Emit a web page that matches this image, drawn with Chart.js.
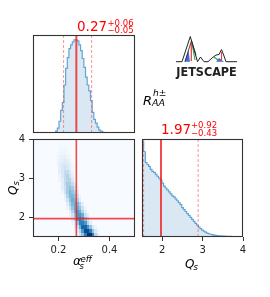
<!DOCTYPE html>
<html><head><meta charset="utf-8">
<script src="https://cdn.jsdelivr.net/npm/chart.js@4.4.1/dist/chart.umd.min.js"></script>
<style>
html,body{margin:0;padding:0;background:#fff;}
#wrap{position:relative;width:270px;height:297px;overflow:hidden;background:#fff;font-family:'DejaVu Sans',sans-serif;}
canvas{position:absolute;left:0;top:0;}
.t{position:absolute;white-space:nowrap;line-height:1;font-family:'DejaVu Sans',sans-serif;}
</style></head><body>
<div id="wrap">
<canvas id="c1" width="270" height="297"></canvas>
<canvas id="c2" width="270" height="297"></canvas>
<canvas id="c3" width="270" height="297"></canvas>
<svg style="position:absolute;left:170px;top:30px" width="75" height="55" viewBox="0 0 75 55">
  <polygon points="14.5,31.7 18.5,20 20,31.7" fill="#3d6fe0"/>
  <polygon points="46,31.7 49,28 54,31.7" fill="#3d6fe0"/>
  <line x1="21.3" y1="13" x2="21.3" y2="31" stroke="#e8463c" stroke-width="1.3"/>
  <line x1="51.5" y1="22" x2="51.5" y2="31" stroke="#e8463c" stroke-width="1.2"/>
  <polyline points="22.5,16 25,30" fill="none" stroke="#33a04a" stroke-width="1.1"/>
  <polyline points="44,27 48,30" fill="none" stroke="#33a04a" stroke-width="1.1"/>
  <polyline points="6,31.7 12,31.7 20.3,6.5 27.5,31.7 30.5,27 34,31.7 38,31.7 42,28 46,25 49,24.5 51.5,19.5 54,26 56,31.7 67,31.7" fill="none" stroke="#222" stroke-width="1"/>
  <polyline points="15,31.7 21.5,10.5 26,25" fill="none" stroke="#222" stroke-width="0.8"/>
  <text x="6.3" y="45.5" font-family="DejaVu Sans" font-weight="bold" font-size="12.5" textLength="60.5" lengthAdjust="spacingAndGlyphs" fill="#222">JETSCAPE</text>
</svg>
</div>
<script>
// ---------------- data ----------------
const alphaRange = [0.1, 0.5];
const qRange = [1.5, 4.0];
const alphaTicks = [0.2, 0.4];
const qTicks = [2, 3, 4];

const alphaMedian = 0.27, alphaLow = 0.22, alphaHigh = 0.33;
const qMedian = 1.97, qLow = 1.54, qHigh = 2.89;

// alpha_s^eff marginal histogram (bin start, bin width, relative heights)
const alphaHistStart = 0.189;
const alphaHistWidth = 0.0065;
const alphaHist = [0.02, 0.05, 0.12, 0.23, 0.31, 0.49, 0.66, 0.77, 0.86, 0.90, 0.93, 0.95, 0.95, 0.94,
  0.90, 0.84, 0.76, 0.67, 0.57, 0.49, 0.43, 0.33, 0.21, 0.14, 0.10, 0.06, 0.03, 0.02, 0.01];

// Q_s marginal histogram
const qHistStart = 1.5;
const qHistWidth = 0.041;
const qHist = [0.97, 0.87, 0.76, 0.74, 0.72, 0.69, 0.67, 0.66, 0.64, 0.62, 0.60, 0.58, 0.55, 0.52, 0.50,
  0.48, 0.46, 0.44, 0.42, 0.41, 0.39, 0.37, 0.35, 0.33, 0.30, 0.28, 0.26, 0.24, 0.22, 0.20, 0.18, 0.16,
  0.14, 0.12, 0.10, 0.085, 0.07, 0.06, 0.05, 0.04, 0.033, 0.028, 0.024, 0.02, 0.017, 0.015, 0.013, 0.011,
  0.01, 0.009, 0.008, 0.007, 0.006, 0.006, 0.005, 0.005, 0.004, 0.004, 0.003, 0.003, 0.002];

// 2D joint density (rows: Q_s bins from heatQStart, columns: alpha bins from heatAlphaStart), scale 0-10
const heatAlphaStart = 0.18, heatAlphaStep = 0.01;
const heatQStart = 1.5, heatQStep = 0.1;
const heatRows = [
  [0,0,0,0,0,0,0,0,0,0.5,2,4,7,10,10,7,3,1],
  [0,0,0,0,0,0,0,0,0.5,1,3,6,9,9,7,4,1.5,0.5],
  [0,0,0,0,0,0,0,0,1,2,5,8,8,6,4,1.5,0.5,0],
  [0,0,0,0,0,0,0,0.5,1.5,4,7,7,6,3,1,0,0,0],
  [0,0,0,0,0,0,0,1,3,6,7,6,4,2,0.5,0,0,0],
  [0,0,0,0,0,0,0.5,2,4,6,6,5,2,1,0,0,0,0],
  [0,0,0,0,0,0,1,3,5,6,5,3,1,0,0,0,0,0],
  [0,0,0,0,0,0.5,2,4,5,5,4,2,0.5,0,0,0,0,0],
  [0,0,0,0,0,1,3,4.5,5,4.5,3,1,0,0,0,0,0,0],
  [0,0,0,0,0.5,2,4,5,4.5,3,1,0,0,0,0,0,0,0],
  [0,0,0,0,1,3,4.5,4.5,4,2,0.5,0,0,0,0,0,0,0],
  [0,0,0,0.5,2,3.5,4.5,4,3,1,0,0,0,0,0,0,0,0],
  [0,0,0,1,2,3.5,4,3.5,2,0.5,0,0,0,0,0,0,0,0],
  [0,0,0,1,2.5,3.5,3.5,2.5,1,0,0,0,0,0,0,0,0,0],
  [0,0,0.5,1,2.5,3,3,1.5,0.5,0,0,0,0,0,0,0,0,0],
  [0,0,0.5,1.5,2.5,3,2,1,0,0,0,0,0,0,0,0,0,0],
  [0,0,1,1.5,2.5,2.5,1.5,0.5,0,0,0,0,0,0,0,0,0,0],
  [0,0,1,1.5,2,1.5,1,0.3,0,0,0,0,0,0,0,0,0,0],
  [0,0.3,1,1.5,1.5,1.2,0.8,0.3,0,0,0,0,0,0,0,0,0,0],
  [0,0.3,0.8,1,1.2,1,0.5,0,0,0,0,0,0,0,0,0,0,0],
  [0,0.2,0.5,0.8,0.8,0.5,0.3,0,0,0,0,0,0,0,0,0,0,0],
  [0,0.1,0.3,0.5,0.5,0.3,0.1,0,0,0,0,0,0,0,0,0,0,0],
  [0,0,0.2,0.3,0.3,0.2,0,0,0,0,0,0,0,0,0,0,0,0],
  [0,0,0.1,0.15,0.1,0,0,0,0,0,0,0,0,0,0,0,0,0]
];
const heatMax = 10;

// ---------------- styles ----------------
const HIST_FILL = 'rgba(31,119,180,0.17)';
const HIST_LINE = '#62a4d6';
const RED = 'rgba(240,30,30,0.8)';
const RED_DASH = 'rgba(245,70,70,0.65)';
const FRAME = '#333';
const TICK_FONT = {family: "'DejaVu Sans', sans-serif", size: 10};
const blues = ['#f7fbff','#deebf7','#c6dbef','#9ecae1','#6baed6','#4292c6','#2171b5','#08519c','#08306b'];

function hexRGB(h){return [parseInt(h.slice(1,3),16),parseInt(h.slice(3,5),16),parseInt(h.slice(5,7),16)];}
function bluesColor(t){
  t = Math.max(0, Math.min(1, t));
  const p = t*(blues.length-1);
  const i = Math.min(Math.floor(p), blues.length-2);
  const f = p - i;
  const a = hexRGB(blues[i]), b = hexRGB(blues[i+1]);
  return 'rgb(' + a.map((v,k)=>Math.round(v+(b[k]-v)*f)).join(',') + ')';
}

function histPoints(start, width, heights){
  const pts = [{x: start, y: 0}];
  heights.forEach((h, i) => pts.push({x: start + i*width, y: h}));
  const end = start + heights.length*width;
  pts.push({x: end, y: 0});
  return pts;
}
function histDataset(start, width, heights){
  return {data: histPoints(start, width, heights), showLine: true, stepped: 'before', pointRadius: 0,
    borderColor: HIST_LINE, borderWidth: 1.2, backgroundColor: HIST_FILL, fill: 'origin', order: 5};
}
function vline(x, y0, y1, color, width, dash){
  return {data: [{x, y: y0}, {x, y: y1}], showLine: true, pointRadius: 0, borderColor: color,
    borderWidth: width, borderDash: dash || [], fill: false, order: 1};
}
function hline(y, x0, x1, color, width){
  return {data: [{x: x0, y}, {x: x1, y}], showLine: true, pointRadius: 0, borderColor: color,
    borderWidth: width, fill: false, order: 1};
}

const framePlugin = {
  id: 'frame',
  afterDraw(chart){
    const a = chart.chartArea, ctx = chart.ctx;
    ctx.save(); ctx.strokeStyle = FRAME; ctx.lineWidth = 1.1;
    ctx.strokeRect(a.left + 0.5, a.top + 0.5, a.right - a.left - 1, a.bottom - a.top - 1);
    ctx.restore();
  }
};

const heatPlugin = {
  id: 'heat',
  beforeDatasetsDraw(chart){
    const xs = chart.scales.x, ys = chart.scales.y, a = chart.chartArea, ctx = chart.ctx;
    ctx.save();
    ctx.fillStyle = blues[0];
    ctx.fillRect(a.left, a.top, a.right - a.left, a.bottom - a.top);
    heatRows.forEach((row, r) => {
      const q0 = heatQStart + r*heatQStep, q1 = q0 + heatQStep;
      const py0 = Math.round(ys.getPixelForValue(q1)), py1 = Math.round(ys.getPixelForValue(q0));
      row.forEach((v, c) => {
        if (v <= 0) return;
        const al0 = heatAlphaStart + c*heatAlphaStep, al1 = al0 + heatAlphaStep;
        const px0 = Math.round(xs.getPixelForValue(al0)), px1 = Math.round(xs.getPixelForValue(al1));
        ctx.fillStyle = bluesColor(v/heatMax);
        ctx.fillRect(px0, py0, px1 - px0, py1 - py0);
      });
    });
    ctx.restore();
  }
};

function hiddenScale(min, max){ return {type: 'linear', min, max, display: false}; }
function tickScale(min, max, ticks, axis){
  const s = {type: 'linear', min, max,
    afterBuildTicks: sc => { sc.ticks = ticks.map(v => ({value: v})); },
    grid: {display: true, drawOnChartArea: false, drawTicks: true, tickLength: 4, color: FRAME, lineWidth: 1},
    border: {display: false},
    ticks: {padding: axis === 'x' ? 3 : 4, color: '#222', font: TICK_FONT, maxRotation: 0, autoSkip: false,
      callback: v => String(v)}};
  if (axis === 'x') { s.position = 'bottom'; s.afterFit = sc => { sc.height = 20; }; }
  else { s.position = 'left'; s.afterFit = sc => { sc.width = 20; }; }
  return s;
}
function opts(pad, x, y){
  return {responsive: false, animation: false, devicePixelRatio: 1, events: [],
    layout: {padding: pad},
    plugins: {legend: {display: false}, tooltip: {enabled: false}},
    scales: {x, y}};
}

// Top-left: alpha_s^eff histogram
new Chart(document.getElementById('c1'), {
  type: 'scatter',
  data: {datasets: [
    vline(alphaMedian, 0, 1, RED, 2),
    vline(alphaLow, 0, 1, RED_DASH, 0.9, [3, 2]),
    vline(alphaHigh, 0, 1, RED_DASH, 0.9, [3, 2]),
    histDataset(alphaHistStart, alphaHistWidth, alphaHist)
  ]},
  options: opts({left: 33, top: 35, right: 135, bottom: 164}, hiddenScale(alphaRange[0], alphaRange[1]), hiddenScale(0, 1)),
  plugins: [framePlugin]
});

// Bottom-left: 2D density
new Chart(document.getElementById('c2'), {
  type: 'scatter',
  data: {datasets: [
    vline(alphaMedian, qRange[0], qRange[1], RED, 1.6),
    hline(qMedian, alphaRange[0], alphaRange[1], RED, 1.6)
  ]},
  options: opts({left: 13, top: 139, right: 135, bottom: 40},
    tickScale(alphaRange[0], alphaRange[1], alphaTicks, 'x'),
    tickScale(qRange[0], qRange[1], qTicks, 'y')),
  plugins: [heatPlugin, framePlugin]
});

// Bottom-right: Q_s histogram
new Chart(document.getElementById('c3'), {
  type: 'scatter',
  data: {datasets: [
    vline(qMedian, 0, 1, RED, 2),
    vline(qLow, 0, 1, RED_DASH, 0.9, [3, 2]),
    vline(qHigh, 0, 1, RED_DASH, 0.9, [3, 2]),
    histDataset(qHistStart, qHistWidth, qHist)
  ]},
  options: opts({left: 142, top: 139, right: 27, bottom: 40},
    tickScale(qRange[0], qRange[1], qTicks, 'x'), hiddenScale(0, 1)),
  plugins: [framePlugin]
});

// ---------------- text labels ----------------
const wrap = document.getElementById('wrap');
function label(text, x, baseline, size, o){
  o = o || {};
  const d = document.createElement('div');
  d.className = 't';
  d.textContent = text;
  d.style.left = x + 'px';
  d.style.top = (baseline - 0.846*size) + 'px';
  d.style.fontSize = size + 'px';
  if (o.color) d.style.color = o.color;
  if (o.italic) d.style.fontStyle = 'italic';
  wrap.appendChild(d);
  return d;
}
const RED_TXT = '#ff0000';
label('0.27', 77, 31.7, 13.5, {color: RED_TXT});
label('+0.06', 107.5, 25.7, 8.5, {color: RED_TXT});
label('\u22120.05', 107.5, 33.4, 8.5, {color: RED_TXT});
label('1.97', 161, 134.5, 13.5, {color: RED_TXT});
label('+0.92', 191, 128.5, 8.5, {color: RED_TXT});
label('\u22120.43', 191, 136.2, 8.5, {color: RED_TXT});

label('R', 143, 105, 13, {italic: true});
label('h\u00b1', 153, 97, 9, {italic: true});
label('AA', 152, 106.5, 9.5, {italic: true});

label('\u03b1', 73, 266, 12.5, {italic: true});
label('eff', 80.5, 262, 8.5, {italic: true});
label('s', 79.5, 269.5, 8.5, {italic: true});

label('Q', 185, 268, 12, {italic: true});
label('s', 193.5, 270, 8.5, {italic: true});

// rotated y label Q_s
const yl = document.createElement('div');
yl.className = 't';
yl.style.left = '7px';
yl.style.top = '195px';
yl.style.fontSize = '12px';
yl.style.fontStyle = 'italic';
yl.style.transformOrigin = 'left top';
yl.style.transform = 'rotate(-90deg)';
yl.innerHTML = 'Q<span style="font-size:8.5px;position:relative;top:2px">s</span>';
wrap.appendChild(yl);
</script>
</body></html>
